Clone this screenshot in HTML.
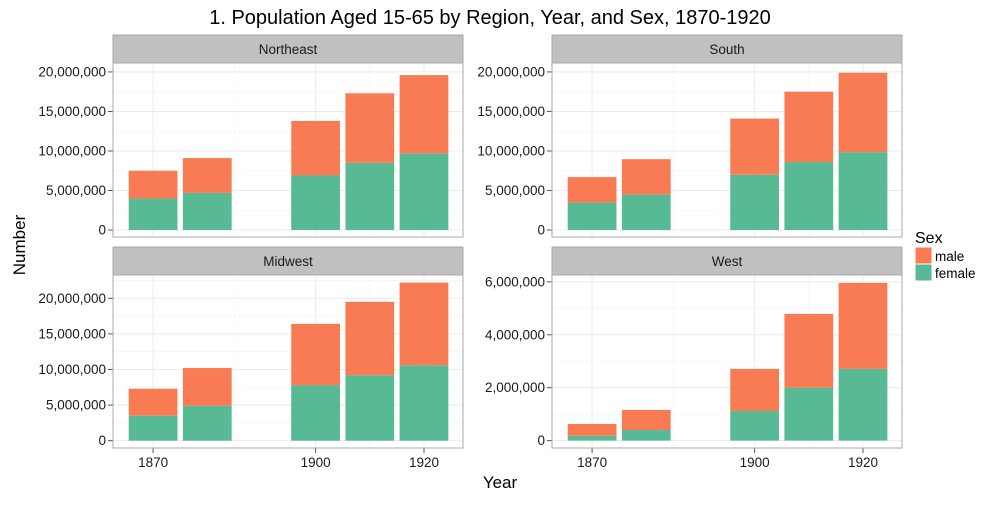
<!DOCTYPE html>
<html><head><meta charset="utf-8"><style>
body{margin:0;background:#fff;font-family:"Liberation Sans",sans-serif}
</style></head><body>
<svg id="c" width="1000" height="500" xmlns="http://www.w3.org/2000/svg" font-family="Liberation Sans, sans-serif">
<text x="490" y="24" text-anchor="middle" font-size="20" fill="#000">1. Population Aged 15-65 by Region, Year, and Sex, 1870-1920</text>
<text x="25" y="245" text-anchor="middle" font-size="17" transform="rotate(-90 25 245)">Number</text>
<text x="500" y="488" text-anchor="middle" font-size="17">Year</text>
<g>
<text x="915" y="243" font-size="16">Sex</text>
<rect x="915" y="247" width="17" height="17" fill="#f87b53" stroke="#fff"/>
<text x="935" y="261" font-size="13.5">male</text>
<rect x="915" y="264" width="17" height="17" fill="#57ba94" stroke="#fff"/>
<text x="935" y="278" font-size="13.5">female</text>
</g>
</svg>
<script>
const years=[1870,1880,1900,1910,1920];
const neTotal=[7.5,9.1,13.8,17.3,19.6], neFemale=[4.0,4.7,6.9,8.5,9.7];
const soTotal=[6.7,8.96,14.1,17.5,19.9], soFemale=[3.47,4.48,7.0,8.6,9.85];
const mwTotal=[7.3,10.2,16.4,19.5,22.2], mwFemale=[3.5,4.9,7.8,9.2,10.6];
const weTotal=[0.63,1.16,2.71,4.79,5.96], weFemale=[0.18,0.40,1.12,2.0,2.71];
const bigTicks=[0,5,10,15,20], smallTicks=[0,2,4,6];
const xTicks=[1870,1900,1920];
const NS="http://www.w3.org/2000/svg";
const svg=document.getElementById('c');
function mk(t,a,p){const e=document.createElementNS(NS,t);for(const k in a)e.setAttribute(k,a[k]);(p||svg).appendChild(e);return e;}
function fmt(v){return Math.round(v*1e6).toLocaleString('en-US');}
function panel(name,L,T,W,H,ymin,ymax,ticks,minor,tot,fem,showX){
  const g=mk('g',{});
  
  
  const st=mk('rect',{x:L,y:T-28,width:W,height:28,fill:'#c0c0c0',stroke:'#a8a8a8'},g);
  
  
  const sl=mk('text',{x:L+W/2,y:T-9,'text-anchor':'middle','font-size':13.5,fill:'#1a1a1a'},g);
  sl.textContent=name;
  
  
  mk('rect',{x:L,y:T,width:W,height:H,fill:'#fff'},g);
  const x0=1862.6,x1=1927.2;
  const sx=v=>L+(v-x0)/(x1-x0)*W;
  const sy=v=>T+H-(v-ymin)/(ymax-ymin)*H;
  for(const v of minor){if(v>ymax)continue;mk('line',{x1:L,x2:L+W,y1:sy(v),y2:sy(v),stroke:'#f5f5f5','stroke-width':0.8},g);}
  for(const v of [1885,1910]){mk('line',{x1:sx(v),x2:sx(v),y1:T,y2:T+H,stroke:'#f5f5f5','stroke-width':0.8},g);}
  for(const v of ticks){mk('line',{x1:L,x2:L+W,y1:sy(v),y2:sy(v),stroke:'#ebebeb','stroke-width':1},g);
    mk('line',{x1:L-5,x2:L,y1:sy(v),y2:sy(v),stroke:'#555'},g);
    const t=mk('text',{x:L-7,y:sy(v)+4.5,'text-anchor':'end','font-size':13.5,fill:'#1a1a1a'},g);t.textContent=fmt(v);
    
    }
  for(const v of xTicks){mk('line',{x1:sx(v),x2:sx(v),y1:T,y2:T+H,stroke:'#ebebeb'},g);
    if(showX){mk('line',{x1:sx(v),x2:sx(v),y1:T+H,y2:T+H+5,stroke:'#555'},g);
    const t=mk('text',{x:sx(v),y:T+H+19,'text-anchor':'middle','font-size':13.5,fill:'#1a1a1a'},g);t.textContent=v;
    
    }}
  years.forEach((y,i)=>{
    const bx=sx(y-4.5),bw=sx(y+4.5)-sx(y-4.5);
    const f=mk('rect',{x:bx,y:sy(fem[i]),width:bw,height:sy(0)-sy(fem[i]),fill:'#57ba94'},g);
    
    
    const m=mk('rect',{x:bx,y:sy(tot[i]),width:bw,height:sy(fem[i])-sy(tot[i]),fill:'#f87b53'},g);
    
    
  });
  mk('rect',{x:L,y:T,width:W,height:H,fill:'none',stroke:'#a8a8a8'},g);
}
const big=[0,2.5,5,7.5,10,12.5,15,17.5,20,22.5];
panel('Northeast',113,63,350,174,-0.88,21.13,bigTicks,big,neTotal,neFemale,false);
panel('South',552,63,350,174,-0.88,21.13,bigTicks,big,soTotal,soFemale,false);
panel('Midwest',113,275,350,173,-1.03,23.27,bigTicks,big,mwTotal,mwFemale,true);
panel('West',552,275,350,173,-0.28,6.26,smallTicks,[0,1,2,3,4,5,6],weTotal,weFemale,true);
</script>
</body></html>
